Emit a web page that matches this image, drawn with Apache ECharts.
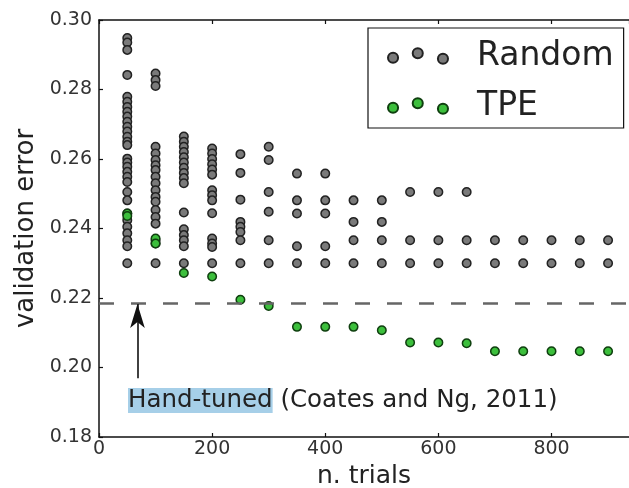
<!DOCTYPE html>
<html>
<head>
<meta charset="utf-8">
<script src="https://cdn.jsdelivr.net/npm/echarts@6/dist/echarts.min.js"></script>
<style>
html,body{margin:0;padding:0;background:#fff;}
#chart{width:629px;height:488px;}
</style>
</head>
<body>
<div id="chart"></div>
<script>
// ---- data ----
const trials = [50,100,150,200,250,300,350,400,450,500,550,600,650,700,750,800,850,900];

const randomErr = [
  [0.2948,0.2935,0.2914,0.2842,0.2779,0.2765,0.2750,0.2736,0.2722,0.2707,0.2693,0.2679,0.2664,0.2650,0.2640,0.2601,0.2590,0.2578,0.2563,0.2549,0.2534,0.2505,0.2481,0.2443,0.2424,0.2405,0.2386,0.2366,0.2349,0.2300],
  [0.2846,0.2827,0.2810,0.2635,0.2616,0.2597,0.2582,0.2568,0.2549,0.2530,0.2510,0.2491,0.2477,0.2453,0.2433,0.2414,0.2366,0.2357,0.2300],
  [0.2665,0.2650,0.2635,0.2620,0.2605,0.2590,0.2575,0.2560,0.2545,0.2530,0.2446,0.2398,0.2381,0.2366,0.2349,0.2300],
  [0.2630,0.2616,0.2600,0.2585,0.2570,0.2555,0.2510,0.2496,0.2481,0.2444,0.2371,0.2357,0.2347,0.2300],
  [0.2614,0.2560,0.2483,0.2419,0.2405,0.2390,0.2366,0.2300],
  [0.2635,0.2597,0.2505,0.2448,0.2366,0.2300],
  [0.2558,0.2481,0.2443,0.2349,0.2300],
  [0.2558,0.2481,0.2443,0.2349,0.2300],
  [0.2481,0.2419,0.2366,0.2300],
  [0.2481,0.2419,0.2366,0.2300],
  [0.2505,0.2366,0.2300],
  [0.2505,0.2366,0.2300],
  [0.2505,0.2366,0.2300],
  [0.2366,0.2300],
  [0.2366,0.2300],
  [0.2366,0.2300],
  [0.2366,0.2300],
  [0.2366,0.2300]
];

const tpeErr = [
  [0.2443,0.2436],
  [0.2371,0.2357],
  [0.2272],
  [0.2262],
  [0.2195],
  [0.2177],
  [0.2117],
  [0.2117],
  [0.2117],
  [0.2107],
  [0.2072],
  [0.2072],
  [0.2070],
  [0.2047],
  [0.2047],
  [0.2047],
  [0.2047],
  [0.2047]
];

const handTuned = 0.2185;           // dashed reference line
const arrowTrial = 68;              // arrow x position (n. trials)
const arrowFrom = 0.1969, arrowTo = 0.2183;

// ---- build series data ----
function flatten(cols){
  const out = [];
  cols.forEach((vals,i)=>vals.forEach(v=>out.push([trials[i], v])));
  return out;
}
const randomData = flatten(randomErr);
const tpeData = flatten(tpeErr);

const FONT = 'DejaVu Sans';
const legendIcon = 'path://M0.5,10.5a5,5 0 1,0 10,0a5,5 0 1,0 -10,0z M25,6a5,5 0 1,0 10,0a5,5 0 1,0 -10,0z M50,11.5a5,5 0 1,0 10,0a5,5 0 1,0 -10,0z';

const chart = echarts.init(document.getElementById('chart'), null, {renderer:'canvas'});
chart.setOption({
  animation:false,
  backgroundColor:'#fff',
  grid:{left:99, top:20, right:0, bottom:51, outerBoundsMode:'none', containLabel:false},
  xAxis:[{
    type:'value', min:0, max:937, interval:200, position:'bottom',
    axisLine:{show:true, lineStyle:{color:'#111', width:1.5}},
    axisTick:{show:true, inside:true, length:4, lineStyle:{color:'#111', width:1.2}},
    axisLabel:{show:true, margin:3, color:'#333', fontFamily:FONT, fontSize:19, showMaxLabel:false},
    splitLine:{show:false},
    name:'n. trials', nameLocation:'middle', nameGap:27,
    nameTextStyle:{color:'#222', fontFamily:FONT, fontSize:25}
  },{
    type:'value', min:0, max:937, interval:200, position:'top',
    axisLine:{show:true, lineStyle:{color:'#111', width:1.5}},
    axisTick:{show:true, inside:true, length:4, lineStyle:{color:'#111', width:1.2}},
    axisLabel:{show:false}, splitLine:{show:false}
  }],
  yAxis:{
    type:'value', min:0.18, max:0.30, interval:0.02,
    axisLine:{show:true, lineStyle:{color:'#111', width:1.5}},
    axisTick:{show:true, inside:true, length:4, lineStyle:{color:'#111', width:1.2}},
    axisLabel:{margin:7, color:'#333', fontFamily:FONT, fontSize:19,
      formatter:v=>v.toFixed(2)},
    splitLine:{show:false},
    name:'validation error', nameLocation:'middle', nameGap:50, nameRotate:90,
    nameTextStyle:{color:'#222', fontFamily:FONT, fontSize:26}
  },
  legend:{
    orient:'vertical', left:368, top:28,
    backgroundColor:'#fff', borderColor:'#111', borderWidth:1.2, borderRadius:0,
    padding:[10,10,4,19], itemGap:14, itemWidth:60, itemHeight:17,
    icon:legendIcon,
    textStyle:{fontFamily:FONT, fontSize:33, color:'#222', lineHeight:36, padding:[0,0,0,24]},
    data:['Random','TPE']
  },
  series:[{
    name:'Random', type:'scatter', data:randomData, symbol:'circle', symbolSize:8.5,
    itemStyle:{color:'#7a7a7a', borderColor:'#222', borderWidth:1.5, opacity:1},
    markLine:{
      silent:true, precision:4, symbol:['none','none'], label:{show:false},
      lineStyle:{type:[15,17], color:'#666', width:2.5},
      data:[{yAxis:handTuned}]
    },
    z:2
  },{
    name:'TPE', type:'scatter', data:tpeData, symbol:'circle', symbolSize:8.5,
    itemStyle:{color:'#3cbf3c', borderColor:'#0f3f0f', borderWidth:1.5, opacity:1},
    markLine:{
      silent:true, precision:4, symbol:['none','arrow'], symbolSize:[11,24], label:{show:false},
      lineStyle:{type:'solid', color:'#111', width:1.6},
      data:[[{coord:[arrowTrial, arrowFrom]},{coord:[arrowTrial, arrowTo]}]]
    },
    z:3
  }],
  graphic:[{
    type:'text', left:128, top:388, z:10,
    style:{
      text:'{a|Hand-tuned} (Coates and Ng, 2011)',
      fontFamily:FONT, fontSize:24.5, fill:'#222',
      rich:{a:{backgroundColor:'#a6cfe8', color:'#1a2a3c', fontFamily:FONT, fontSize:24.5, padding:[0,0,0,0]}}
    }
  }]
});
</script>
</body>
</html>
